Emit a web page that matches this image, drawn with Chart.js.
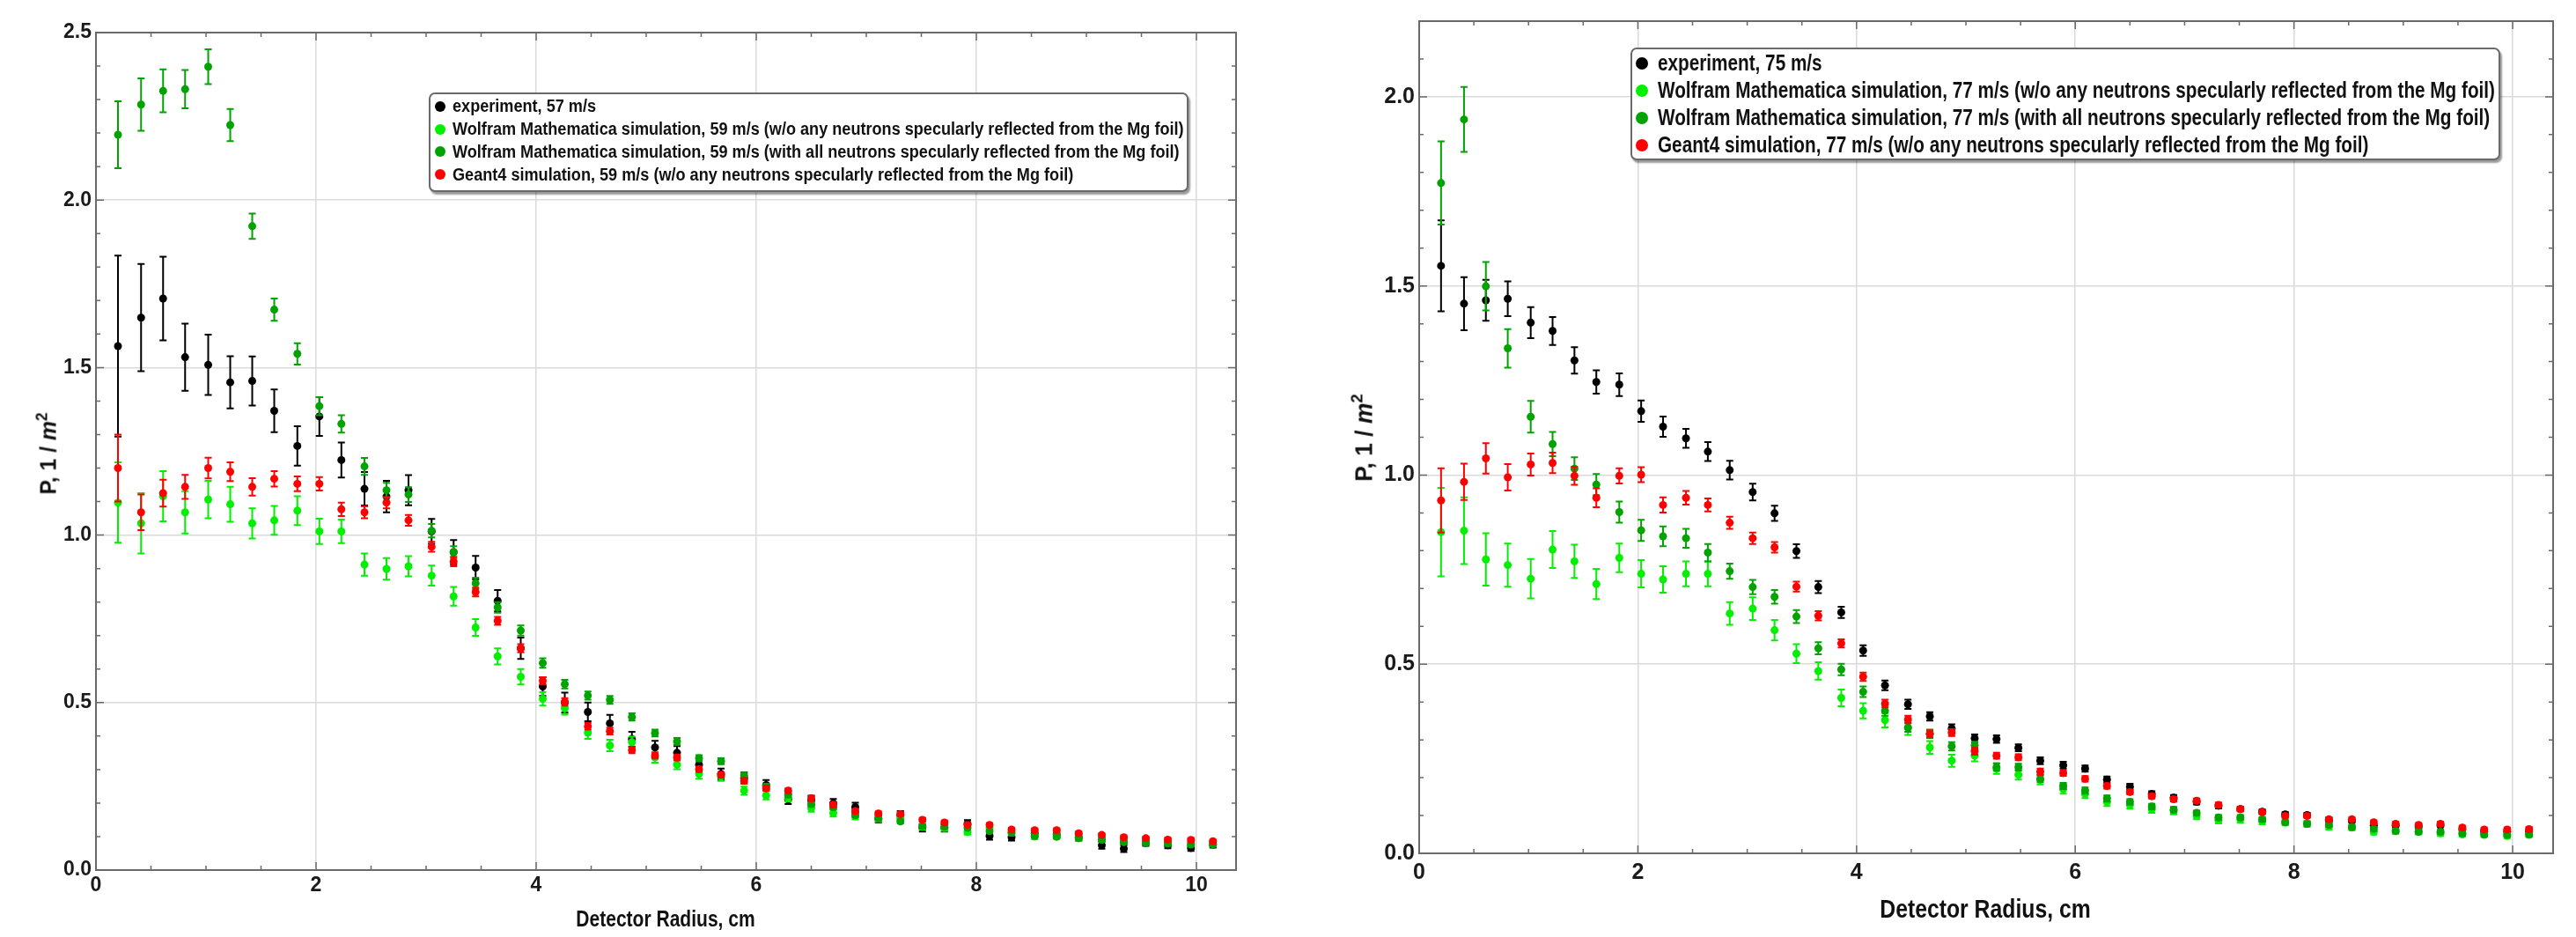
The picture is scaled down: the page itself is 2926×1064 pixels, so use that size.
<!DOCTYPE html>
<html>
<head>
<meta charset="utf-8">
<script src="https://cdn.jsdelivr.net/npm/chart.js@4.4.1/dist/chart.umd.min.js"></script>
<style>
  body { margin: 0; background: #fff; width: 2926px; height: 1064px; overflow: hidden; position: relative;
         font-family: 'Liberation Sans', Arial, sans-serif; font-weight: bold; color: #111; }
  canvas { position: absolute; top: 0; }
  .legend { position: absolute; box-sizing: border-box; background: #fff; border: 2px solid #6a6a6a; border-radius: 7px;
            box-shadow: 2px 3px 2px rgba(0,0,0,0.4); }
  .legend .item { display: flex; align-items: center; white-space: nowrap; }
  .legend .dot { border-radius: 50%; flex: none; }
  .legend .txt { display: inline-block; transform-origin: left center; }
  .ytitle, .xtitle { position: absolute; white-space: nowrap; }
  sup { font-size: 0.7em; vertical-align: 0.6em; line-height: 0; }
</style>
</head>
<body>
<canvas id="left" width="1450" height="1064" style="left:0"></canvas>
<canvas id="right" width="1466" height="1064" style="left:1460px"></canvas>

<div class="ytitle" id="ytL" style="left:55px; top:515px; font-size:25px;">P, 1 / <i>m</i><sup>2</sup></div>
<div class="ytitle" id="ytR" style="left:1550px; top:497px; font-size:27px;">P, 1 / <i>m</i><sup>2</sup></div>
<div class="xtitle" id="xtL" style="left:756px; top:1043px; font-size:26px;">Detector Radius, cm</div>
<div class="xtitle" id="xtR" style="left:2255px; top:1032px; font-size:29px;">Detector Radius, cm</div>

<div class="legend" id="legLeft" style="left:487px; top:105px; width:863px; height:113px; padding:1px 0 0 5px; font-size:20px;"></div>
<div class="legend" id="legRight" style="left:1852px; top:54px; width:988px; height:128px; padding:0 0 0 4px; font-size:25px;"></div>

<script>
// detector radius bins, cm (same for both panels)
const radiusCm = [
  0.20, 0.41, 0.61, 0.81, 1.02, 1.22, 1.42, 1.62, 1.83, 2.03,
  2.23, 2.44, 2.64, 2.84, 3.05, 3.25, 3.45, 3.65, 3.86, 4.06,
  4.26, 4.47, 4.67, 4.87, 5.08, 5.28, 5.48, 5.68, 5.89, 6.09,
  6.29, 6.50, 6.70, 6.90, 7.11, 7.31, 7.51, 7.71, 7.92, 8.12,
  8.32, 8.53, 8.73, 8.93, 9.14, 9.34, 9.54, 9.74, 9.95, 10.15
];

// ---- left panel: 57 / 59 m/s ----
const labels59 = [
  'experiment, 57 m/s',
  'Wolfram Mathematica simulation, 59 m/s (w/o any neutrons specularly reflected from the Mg foil)',
  'Wolfram Mathematica simulation, 59 m/s (with all neutrons specularly reflected from the Mg foil)',
  'Geant4 simulation, 59 m/s (w/o any neutrons specularly reflected from the Mg foil)'
];
const exp57 = [
  1.564, 1.649, 1.706, 1.531, 1.508, 1.456, 1.460, 1.371, 1.266, 1.354,
  1.224, 1.138, 1.115, 1.134, 1.011, 0.949, 0.903, 0.804, 0.662, 0.548,
  0.500, 0.472, 0.438, 0.391, 0.366, 0.350, 0.315, 0.287, 0.275, 0.254,
  0.211, 0.208, 0.199, 0.188, 0.154, 0.164, 0.126, 0.126, 0.138, 0.102,
  0.098, 0.110, 0.107, 0.098, 0.074, 0.064, 0.081, 0.074, 0.066, 0.076
];
const exp57Err = [
  0.270, 0.160, 0.125, 0.100, 0.090, 0.078, 0.073, 0.064, 0.059, 0.058,
  0.052, 0.050, 0.047, 0.045, 0.037, 0.036, 0.035, 0.032, 0.032, 0.028,
  0.030, 0.028, 0.025, 0.022, 0.020, 0.020, 0.018, 0.016, 0.016, 0.015,
  0.014, 0.014, 0.013, 0.013, 0.012, 0.012, 0.011, 0.011, 0.011, 0.011,
  0.010, 0.010, 0.010, 0.010, 0.010, 0.010, 0.009, 0.009, 0.009, 0.009
];
const wmNoRefl59 = [
  1.097, 1.035, 1.116, 1.068, 1.106, 1.092, 1.035, 1.044, 1.073, 1.011,
  1.011, 0.912, 0.899, 0.907, 0.879, 0.817, 0.724, 0.638, 0.577, 0.511,
  0.483, 0.410, 0.372, 0.382, 0.336, 0.315, 0.287, 0.279, 0.237, 0.223,
  0.216, 0.185, 0.170, 0.161, 0.154, 0.157, 0.129, 0.126, 0.114, 0.126,
  0.112, 0.100, 0.100, 0.095, 0.091, 0.088, 0.083, 0.081, 0.079, 0.078
];
const wmNoRefl59Err = [
  0.120, 0.090, 0.075, 0.063, 0.056, 0.052, 0.045, 0.043, 0.043, 0.038,
  0.035, 0.033, 0.032, 0.030, 0.030, 0.028, 0.025, 0.024, 0.023, 0.020,
  0.019, 0.018, 0.017, 0.016, 0.015, 0.014, 0.014, 0.013, 0.012, 0.012,
  0.011, 0.011, 0.010, 0.010, 0.010, 0.009, 0.009, 0.009, 0.008, 0.008,
  0.008, 0.008, 0.007, 0.007, 0.007, 0.007, 0.007, 0.006, 0.006, 0.006
];
const wmRefl59 = [
  2.195, 2.285, 2.326, 2.331, 2.398, 2.224, 1.922, 1.673, 1.541, 1.385,
  1.332, 1.205, 1.134, 1.121, 1.013, 0.949, 0.856, 0.784, 0.715, 0.618,
  0.555, 0.521, 0.508, 0.457, 0.409, 0.384, 0.334, 0.325, 0.282, 0.249,
  0.225, 0.197, 0.188, 0.164, 0.154, 0.145, 0.131, 0.129, 0.126, 0.116,
  0.112, 0.102, 0.100, 0.095, 0.091, 0.083, 0.081, 0.079, 0.076, 0.076
];
const wmRefl59Err = [
  0.100, 0.078, 0.064, 0.057, 0.052, 0.048, 0.038, 0.033, 0.032, 0.027,
  0.026, 0.025, 0.022, 0.022, 0.020, 0.018, 0.017, 0.016, 0.015, 0.014,
  0.013, 0.012, 0.012, 0.011, 0.010, 0.010, 0.009, 0.009, 0.008, 0.008,
  0.008, 0.007, 0.007, 0.007, 0.006, 0.006, 0.006, 0.006, 0.005, 0.005,
  0.005, 0.005, 0.005, 0.005, 0.005, 0.005, 0.005, 0.005, 0.005, 0.005
];
const g4_59 = [
  1.200, 1.068, 1.125, 1.144, 1.200, 1.189, 1.144, 1.168, 1.153, 1.153,
  1.077, 1.068, 1.097, 1.044, 0.965, 0.921, 0.830, 0.744, 0.662, 0.565,
  0.502, 0.429, 0.415, 0.358, 0.342, 0.336, 0.301, 0.284, 0.266, 0.244,
  0.237, 0.214, 0.195, 0.176, 0.169, 0.167, 0.150, 0.142, 0.135, 0.135,
  0.121, 0.119, 0.119, 0.110, 0.105, 0.098, 0.095, 0.091, 0.090, 0.086
];
const g4_59Err = [
  0.100, 0.053, 0.040, 0.036, 0.031, 0.028, 0.026, 0.023, 0.022, 0.020,
  0.020, 0.018, 0.017, 0.016, 0.015, 0.014, 0.013, 0.012, 0.012, 0.011,
  0.011, 0.010, 0.010, 0.009, 0.009, 0.009, 0.008, 0.008, 0.008, 0.007,
  0.007, 0.007, 0.007, 0.006, 0.006, 0.006, 0.006, 0.006, 0.005, 0.005,
  0.005, 0.005, 0.005, 0.005, 0.005, 0.005, 0.005, 0.005, 0.005, 0.005
];

// ---- right panel: 75 / 77 m/s ----
const labels77 = [
  'experiment, 75 m/s',
  'Wolfram Mathematica simulation, 77 m/s (w/o any neutrons specularly reflected from the Mg foil)',
  'Wolfram Mathematica simulation, 77 m/s (with all neutrons specularly reflected from the Mg foil)',
  'Geant4 simulation, 77 m/s (w/o any neutrons specularly reflected from the Mg foil)'
];
const exp75 = [
  1.553, 1.453, 1.462, 1.466, 1.403, 1.381, 1.303, 1.246, 1.239, 1.169,
  1.128, 1.097, 1.062, 1.013, 0.955, 0.899, 0.799, 0.704, 0.637, 0.536,
  0.444, 0.394, 0.362, 0.330, 0.304, 0.302, 0.279, 0.245, 0.233, 0.224,
  0.195, 0.176, 0.157, 0.147, 0.136, 0.126, 0.117, 0.110, 0.103, 0.101,
  0.088, 0.086, 0.074, 0.074, 0.071, 0.074, 0.063, 0.057, 0.057, 0.057
];
const exp75Err = [
  0.120, 0.070, 0.054, 0.046, 0.041, 0.037, 0.035, 0.031, 0.030, 0.028,
  0.027, 0.025, 0.025, 0.025, 0.022, 0.020, 0.018, 0.016, 0.015, 0.014,
  0.013, 0.012, 0.011, 0.011, 0.010, 0.010, 0.009, 0.009, 0.009, 0.008,
  0.008, 0.008, 0.007, 0.007, 0.007, 0.007, 0.006, 0.006, 0.006, 0.006,
  0.006, 0.005, 0.005, 0.005, 0.005, 0.005, 0.005, 0.005, 0.005, 0.005
];
const wmNoRefl77 = [
  0.849, 0.853, 0.777, 0.762, 0.726, 0.803, 0.772, 0.712, 0.781, 0.739,
  0.724, 0.739, 0.739, 0.634, 0.647, 0.590, 0.528, 0.482, 0.411, 0.377,
  0.352, 0.331, 0.280, 0.245, 0.258, 0.224, 0.208, 0.195, 0.170, 0.157,
  0.136, 0.128, 0.117, 0.113, 0.099, 0.088, 0.090, 0.085, 0.082, 0.078,
  0.071, 0.068, 0.057, 0.059, 0.057, 0.053, 0.050, 0.049, 0.046, 0.049
];
const wmNoRefl77Err = [
  0.117, 0.088, 0.069, 0.057, 0.052, 0.049, 0.044, 0.040, 0.038, 0.036,
  0.035, 0.033, 0.033, 0.030, 0.030, 0.027, 0.025, 0.023, 0.022, 0.020,
  0.019, 0.018, 0.017, 0.016, 0.015, 0.014, 0.013, 0.013, 0.012, 0.011,
  0.011, 0.010, 0.010, 0.010, 0.009, 0.009, 0.009, 0.008, 0.008, 0.008,
  0.008, 0.007, 0.007, 0.007, 0.007, 0.007, 0.006, 0.006, 0.006, 0.006
];
const wmRefl77 = [
  1.772, 1.940, 1.499, 1.335, 1.154, 1.082, 1.017, 0.975, 0.902, 0.854,
  0.838, 0.833, 0.795, 0.746, 0.704, 0.678, 0.626, 0.542, 0.486, 0.427,
  0.377, 0.333, 0.316, 0.283, 0.285, 0.228, 0.228, 0.197, 0.178, 0.166,
  0.145, 0.136, 0.124, 0.115, 0.107, 0.095, 0.095, 0.090, 0.082, 0.078,
  0.075, 0.069, 0.065, 0.059, 0.057, 0.057, 0.053, 0.050, 0.049, 0.050
];
const wmRefl77Err = [
  0.110, 0.086, 0.064, 0.051, 0.042, 0.032, 0.030, 0.028, 0.028, 0.028,
  0.026, 0.025, 0.023, 0.020, 0.019, 0.018, 0.017, 0.016, 0.015, 0.014,
  0.013, 0.012, 0.011, 0.011, 0.010, 0.010, 0.009, 0.009, 0.008, 0.008,
  0.008, 0.007, 0.007, 0.007, 0.006, 0.006, 0.006, 0.006, 0.005, 0.005,
  0.005, 0.005, 0.005, 0.005, 0.005, 0.005, 0.005, 0.005, 0.005, 0.005
];
const g4_77 = [
  0.933, 0.982, 1.044, 0.994, 1.028, 1.032, 0.998, 0.940, 0.998, 1.001,
  0.921, 0.940, 0.921, 0.874, 0.833, 0.809, 0.705, 0.628, 0.555, 0.467,
  0.396, 0.354, 0.316, 0.319, 0.270, 0.258, 0.254, 0.216, 0.212, 0.197,
  0.178, 0.162, 0.151, 0.143, 0.139, 0.128, 0.117, 0.109, 0.099, 0.099,
  0.090, 0.090, 0.082, 0.078, 0.075, 0.078, 0.068, 0.063, 0.063, 0.064
];
const g4_77Err = [
  0.085, 0.048, 0.040, 0.035, 0.029, 0.027, 0.024, 0.025, 0.020, 0.020,
  0.020, 0.018, 0.017, 0.016, 0.015, 0.014, 0.013, 0.012, 0.011, 0.011,
  0.010, 0.010, 0.009, 0.009, 0.009, 0.008, 0.008, 0.008, 0.007, 0.007,
  0.007, 0.006, 0.006, 0.006, 0.006, 0.006, 0.005, 0.005, 0.005, 0.005,
  0.005, 0.005, 0.005, 0.005, 0.005, 0.005, 0.005, 0.005, 0.005, 0.005
];

const SERIES_COLORS = ['#000000', '#00f000', '#00a300', '#ff0000'];
const FONT = "'Liberation Sans', Arial, sans-serif";

// error bars drawn just before each dataset's markers
const errorBars = {
  id: 'errorBars',
  beforeDatasetDraw(chart, args) {
    const ds = chart.data.datasets[args.index];
    if (!ds.errors) return;
    const { ctx, scales: { x, y } } = chart;
    ctx.save();
    ctx.strokeStyle = ds.backgroundColor;
    ctx.lineWidth = 2;
    ds.data.forEach((p, i) => {
      const e = ds.errors[i];
      const px = x.getPixelForValue(p.x);
      const y1 = y.getPixelForValue(p.y + e), y2 = y.getPixelForValue(p.y - e);
      ctx.beginPath();
      ctx.moveTo(px, y1); ctx.lineTo(px, y2);
      ctx.moveTo(px - 4, y1); ctx.lineTo(px + 4, y1);
      ctx.moveTo(px - 4, y2); ctx.lineTo(px + 4, y2);
      ctx.stroke();
    });
    ctx.restore();
  }
};

// Mathematica-style frame with inward ticks on all four sides
const frame = {
  id: 'frame',
  afterDraw(chart) {
    const { ctx, chartArea: a, scales: { x, y } } = chart;
    ctx.save();
    ctx.strokeStyle = '#6a6a6a';
    ctx.lineWidth = 2;
    ctx.strokeRect(a.left, a.top, a.right - a.left, a.bottom - a.top);
    ctx.lineWidth = 1.5;
    ctx.beginPath();
    for (let v = 0; v <= x.max + 1e-9; v += 0.5) {
      const px = x.getPixelForValue(v);
      const len = Math.abs(v % 2) < 1e-6 ? 9 : 5;
      ctx.moveTo(px, a.bottom); ctx.lineTo(px, a.bottom - len);
      ctx.moveTo(px, a.top); ctx.lineTo(px, a.top + len);
    }
    for (let k = 0; k * 0.1 <= y.max + 1e-9; k++) {
      const py = y.getPixelForValue(k * 0.1);
      const len = k % 5 === 0 ? 9 : 5;
      ctx.moveTo(a.left, py); ctx.lineTo(a.left + len, py);
      ctx.moveTo(a.right, py); ctx.lineTo(a.right - len, py);
    }
    ctx.stroke();
    ctx.restore();
  }
};

function makePanel(id, labels, values, errors, o) {
  const datasets = values.map((vals, s) => ({
    label: labels[s],
    data: radiusCm.map((r, i) => ({ x: r, y: vals[i] })),
    errors: errors[s],
    backgroundColor: SERIES_COLORS[s],
    pointRadius: 4.5,
    pointBorderWidth: 0,
    showLine: false,
    order: values.length - 1 - s
  }));
  new Chart(document.getElementById(id), {
    type: 'scatter',
    data: { datasets },
    options: {
      responsive: false,
      animation: false,
      devicePixelRatio: 1,
      layout: { padding: { left: 0, right: o.padRight, top: o.padTop, bottom: 0 } },
      plugins: { legend: { display: false }, tooltip: { enabled: false } },
      scales: {
        x: {
          type: 'linear', min: 0, max: o.xMax,
          afterFit: s => { s.height = o.xAxisH; },
          grid: { color: '#dadada', lineWidth: 1.5, drawTicks: false },
          border: { display: false },
          ticks: { stepSize: 2, includeBounds: false, padding: o.xPad, color: '#1a1a1a',
                   font: { family: FONT, size: o.tickSize, weight: 'bold' }, callback: v => String(v) }
        },
        y: {
          type: 'linear', min: 0, max: o.yMax,
          afterFit: s => { s.width = o.yAxisW; },
          grid: { color: '#dadada', lineWidth: 1.5, drawTicks: false },
          border: { display: false },
          ticks: { stepSize: 0.5, includeBounds: false, padding: 5, color: '#1a1a1a',
                   font: { family: FONT, size: o.tickSize, weight: 'bold' }, callback: v => v.toFixed(1) }
        }
      }
    },
    plugins: [errorBars, frame]
  });
}

// legend rows; text squeezed so the long line spans the width it has in the figure
function makeLegend(id, labels, dot, gap, rowH, longWidth) {
  const box = document.getElementById(id);
  const spans = labels.map((txt, s) => {
    const item = document.createElement('div');
    item.className = 'item';
    item.style.height = rowH + 'px';
    const d = document.createElement('span');
    d.className = 'dot';
    d.style.cssText = `width:${dot}px;height:${dot}px;background:${SERIES_COLORS[s]};margin-right:${gap}px`;
    const t = document.createElement('span');
    t.className = 'txt';
    t.textContent = txt;
    item.appendChild(d); item.appendChild(t);
    box.appendChild(item);
    return t;
  });
  const k = longWidth / spans[1].offsetWidth;
  spans.forEach(t => { t.style.transform = `scaleX(${k})`; });
}

function placeTitle(id, width, rotate) {
  const el = document.getElementById(id);
  const k = width / el.offsetWidth;
  el.style.transform = `translate(-50%, -50%)${rotate ? ' rotate(-90deg)' : ''} scaleX(${k})`;
}

makePanel('left', labels59,
  [exp57, wmNoRefl59, wmRefl59, g4_59],
  [exp57Err, wmNoRefl59Err, wmRefl59Err, g4_59Err],
  { xMax: 10.36, yMax: 2.5, padRight: 46, padTop: 37, xAxisH: 76, yAxisW: 109, tickSize: 23, xPad: 4 });

makePanel('right', labels77,
  [exp75, wmNoRefl77, wmRefl77, g4_77],
  [exp75Err, wmNoRefl77Err, wmRefl77Err, g4_77Err],
  { xMax: 10.37, yMax: 2.2, padRight: 26, padTop: 24, xAxisH: 95, yAxisW: 152, tickSize: 25, xPad: 7 });

makeLegend('legLeft', labels59, 12, 8, 25.8, 831);
makeLegend('legRight', labels77, 14, 11, 31, 951);
placeTitle('xtL', 203, false);
placeTitle('xtR', 239, false);
placeTitle('ytL', 93, true);
placeTitle('ytR', 100, true);
</script>
</body>
</html>
